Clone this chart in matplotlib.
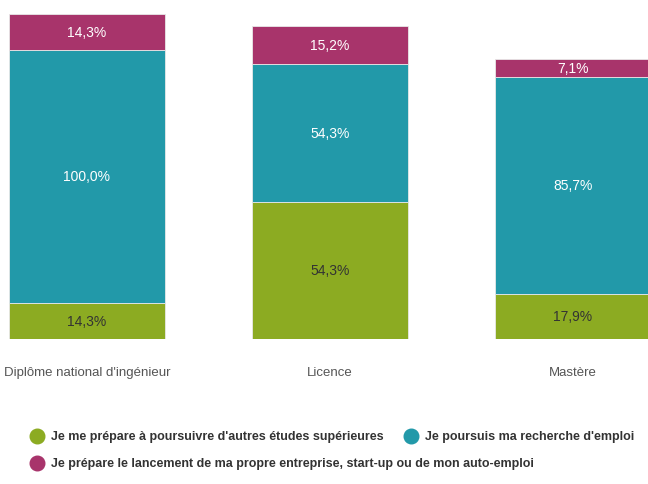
import matplotlib.pyplot as plt

# données
categories = ["Diplôme national d'ingénieur", "Licence", "Mastère"]
etudes = [14.3, 54.3, 17.9]
recherche = [100.0, 54.3, 85.7]
entreprise = [14.3, 15.2, 7.1]
series_noms = [
    "Je me prépare à poursuivre d'autres études supérieures",
    "Je poursuis ma recherche d'emploi",
    "Je prépare le lancement de ma propre entreprise, start-up ou de mon auto-emploi",
]

couleurs = ['#8cab22', '#2299a9', '#a8346b']
couleurs_txt = ['#333333', '#ffffff', '#ffffff']

plt.rcParams['font.family'] = ['Liberation Sans', 'DejaVu Sans']

W, H = 648, 485
fig = plt.figure(figsize=(W / 100, H / 100), dpi=100)

# axe principal : base des barres à y=340 px, 2.53 px par point de %
ax = fig.add_axes([0, (H - 340) / H, 1, 130 * 2.53 / H])
x = list(range(len(categories)))
largeur = 156 / 243

bas = [0] * len(categories)
for vals, coul, ctxt in zip([etudes, recherche, entreprise], couleurs, couleurs_txt):
    barres = ax.bar(x, vals, largeur, bottom=bas, color=coul, edgecolor='#e8e8e8', linewidth=0.6)
    for b, v, b0 in zip(barres, vals, bas):
        ax.text(b.get_x() + b.get_width() / 2, b0 + v / 2, f"{v:.1f}%".replace('.', ','),
                ha='center', va='center', color=ctxt, fontsize=10)
    bas = [a + v for a, v in zip(bas, vals)]

ax.set_xlim(-87 / 243, (W - 87) / 243)
ax.set_ylim(0, 130)
ax.axis('off')

for xi, cat in zip(x, categories):
    ax.text(xi, -13, cat, ha='center', va='center', color='#555555', fontsize=9.5)

# légende dessinée à la main (disposition en flux)
lg = fig.add_axes([0, 0, 1, 1])
lg.set_xlim(0, W)
lg.set_ylim(H, 0)
lg.axis('off')
pos_legende = [(37, 437), (411, 437), (37, 464)]
for (px, py), nom, coul in zip(pos_legende, series_noms, couleurs):
    lg.plot(px, py, 'o', color=coul, markersize=10.5)
    lg.text(px + 14, py, nom, va='center', ha='left', color='#333333',
            fontsize=9, fontweight='bold')

fig.savefig('out.png', dpi=100)
